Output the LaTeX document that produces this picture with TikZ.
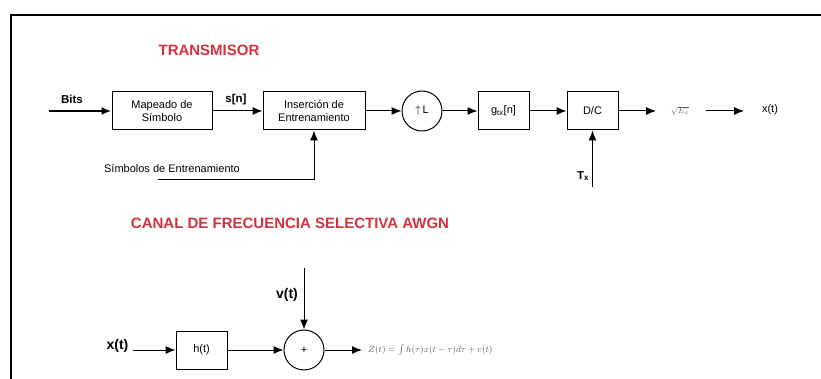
\documentclass[tikz,border=0pt]{standalone}
\usepackage{fontspec}
\setmainfont{Liberation Sans}
\usetikzlibrary{arrows.meta}
\definecolor{titlered}{RGB}{214,48,62}
\definecolor{formgray}{RGB}{95,95,80}
\tikzset{
  x=1pt,y=-1pt,
  blk/.style={draw,line width=1pt,minimum width=#1,minimum height=38pt,inner sep=0pt,font=\fontsize{11}{13}\selectfont,align=center},
  blk/.default=100pt,
  circ/.style={draw,line width=1pt,circle,minimum size=40pt,inner sep=0pt,font=\fontsize{11}{13}\selectfont},
  conn/.style={line width=1pt,-{Latex[length=10pt,width=8pt]}},
  thick conn/.style={line width=2.2pt,-{Latex[length=10pt,width=8pt]}},
  ttl/.style={text=titlered,font=\fontsize{15}{17}\selectfont\bfseries},
  lbl/.style={font=\fontsize{11.5}{13}\selectfont\bfseries,inner sep=0pt},
  plain/.style={font=\fontsize{11}{13}\selectfont,inner sep=0pt},
}
\begin{document}
\begin{tikzpicture}
\useasboundingbox (0,0) rectangle (821,379);
% frame
\draw[line width=2pt] (11,379) -- (11,15) -- (821,15);

% --- Transmisor
\node[ttl] (t1) at (209,50) {TRANSMISOR};
\coordinate (bitsin) at (49,111);
\node[blk=100pt] (map) at (162,111) {Mapeado de\\Símbolo};
\node[blk=102pt] (ins) at (314,111) {Inserción de\\Entrenamiento};
\node[circ] (up) at (422,111) {$\uparrow$\,L};
\node[blk=51pt] (g) at (503.5,111) {g\textsubscript{tx}[n]};
\node[blk=51pt] (dc) at (592.5,111) {D/C};
\node[inner sep=0pt,text=formgray,font=\fontsize{8}{9}\selectfont] (sq) at (680,111) {$\sqrt{E_x}$};
\coordinate (sqr) at (706,111);
\node[plain] (xt) at (770,110) {x(t)};
\coordinate (xtl) at (744,111);
\coordinate (txb) at (592.5,187);
\node[lbl] (txl) at (583,176) {T\textsubscript{x}};
\node[plain] (simb) at (172,169) {Símbolos de Entrenamiento};
\coordinate (simbs) at (158,180);
\coordinate (simbc) at (314,180);
\node[lbl] (bits) at (72,99) {Bits};
\node[lbl] (sn) at (236,100) {s[n]};

\draw[thick conn] (bitsin) -- (map);
\draw[conn] (map) -- (ins);
\draw[conn] (ins) -- (up);
\draw[conn] (up) -- (g);
\draw[conn] (g) -- (dc);
\draw[conn] (dc.east) -- (656,111);
\draw[conn] (sqr) -- (xtl);
\draw[conn] (txb) -- (dc.south);
\draw[line width=1pt] (simbs) -- (simbc);
\draw[conn] (simbc) -- (ins.south);

% --- Canal
\node[ttl] (t2) at (290,223) {CANAL DE FRECUENCIA SELECTIVA AWGN};
\node[font=\fontsize{14}{16}\selectfont\bfseries,inner sep=0pt] (x2) at (117.5,346) {x(t)};
\coordinate (x2r) at (133,350);
\node[blk=51pt] (h) at (201.5,350) {h(t)};
\node[circ] (sum) at (304,350) {+};
\coordinate (vtop) at (304,268);
\node[font=\fontsize{14}{16}\selectfont\bfseries,inner sep=0pt] (vl) at (287,295) {v(t)};
\coordinate (zl) at (362,350);
\node[anchor=west,inner sep=0pt,text=formgray,font=\fontsize{8.6}{10}\selectfont] (zf) at (368,350) {$Z(t)=\int h(\tau)x(t-\tau)d\tau+v(t)$};

\draw[conn] (x2r) -- (x2r -| h.west);
\draw[conn] (h) -- (sum);
\draw[conn] (vtop) -- (sum.north);
\draw[conn] (sum) -- (zl);
\end{tikzpicture}
\end{document}
